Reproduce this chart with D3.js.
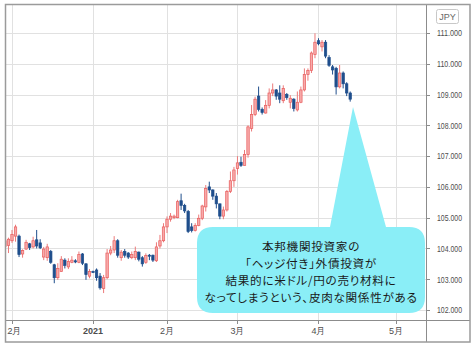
<!DOCTYPE html>
<meta charset="utf-8">
<style>
body { margin: 0; background: #fff; }
text { font-family: "Liberation Sans", Arial, sans-serif; }
.note { font-family: "Noto Sans CJK JP", sans-serif; font-size: 11.6px; letter-spacing: 0.7px; font-feature-settings: "palt"; fill: #1a1a1a; }
</style>
<body>
<script src="https://d3js.org/d3.v7.min.js"></script>
<script>
// USD/JPY daily candles, one value per weekday starting at startDate
var startDate = "2020-11-26";
var openP  = [104.45,104.06,104.10,104.25,104.40,104.40,103.82,103.98,104.15,104.05,104.28,104.18,103.72,103.70,103.90,103.47,103.05,103.25,103.62,103.40,103.55,103.60,103.55,103.82,103.50,103.10,103.25,103.30,103.10,102.70,103.05,103.85,103.95,104.25,103.70,103.90,103.85,103.70,103.70,103.88,103.70,103.55,103.78,103.78,103.60,104.08,104.25,104.70,104.95,105.00,105.00,105.55,105.40,105.20,104.70,104.58,104.75,104.98,105.35,106.00,105.90,105.70,105.45,105.05,105.25,105.85,106.20,106.60,106.80,106.70,107.05,107.90,108.35,108.95,108.52,108.40,108.65,109.05,109.15,109.05,108.80,109.00,108.75,108.85,108.50,108.75,109.15,109.65,109.78,110.30,110.75,110.55,110.70,110.20,109.90,109.85,109.25,109.70,109.35,109.05];
var highP  = [104.50,104.30,104.35,104.60,104.77,104.45,103.97,104.28,104.18,104.38,104.60,104.30,104.05,104.15,103.95,103.50,103.52,103.75,103.68,103.68,103.75,103.65,103.90,103.85,103.52,103.33,103.28,103.35,103.20,103.14,103.98,104.08,104.40,104.30,103.95,103.98,103.88,103.90,104.06,103.90,103.75,103.84,103.82,103.80,104.20,104.44,104.82,105.04,105.15,105.10,105.58,105.78,105.45,105.25,104.82,104.82,105.10,105.42,106.06,106.17,105.92,105.80,105.45,105.36,105.90,106.50,106.65,107.00,106.98,107.20,108.00,108.66,108.93,109.26,108.58,108.82,109.20,109.36,109.18,109.30,109.30,109.05,108.98,108.88,109.10,109.26,109.85,109.85,110.40,110.99,110.83,110.77,110.77,110.28,109.96,109.90,109.96,109.75,109.40,109.10];
var lowP   = [104.20,104.00,103.85,104.18,104.22,103.72,103.70,103.95,103.95,104.00,104.00,103.98,103.62,103.60,103.50,102.87,102.98,103.25,103.35,103.33,103.52,103.52,103.52,103.46,102.98,103.03,103.20,102.95,102.66,102.55,103.00,103.78,103.85,103.70,103.60,103.70,103.66,103.65,103.62,103.58,103.41,103.50,103.62,103.56,103.56,104.00,104.20,104.50,104.87,104.95,104.98,105.25,105.15,104.50,104.52,104.55,104.72,104.92,105.20,105.80,105.58,105.30,104.95,104.95,105.20,105.80,106.00,106.40,106.65,106.70,106.95,107.80,108.30,108.45,108.35,108.38,108.55,108.95,108.83,108.72,108.72,108.83,108.55,108.45,108.45,108.72,109.10,109.45,109.70,110.18,110.60,110.40,110.18,109.90,109.65,109.00,109.20,109.20,108.95,108.77];
var closeP = [104.25,104.25,104.30,104.45,104.70,103.80,103.93,104.20,104.03,104.25,104.08,104.02,103.98,104.05,103.55,103.05,103.35,103.65,103.45,103.58,103.62,103.56,103.80,103.52,103.15,103.25,103.22,103.05,102.72,103.05,103.85,103.95,104.25,103.78,103.88,103.78,103.72,103.80,103.90,103.65,103.50,103.77,103.75,103.62,104.05,104.25,104.70,104.95,105.05,105.05,105.52,105.40,105.22,104.55,104.58,104.75,104.98,105.38,105.95,105.90,105.70,105.45,105.05,105.25,105.85,106.20,106.55,106.78,106.70,107.05,107.95,108.35,108.85,108.52,108.42,108.65,109.05,109.15,108.95,108.85,109.20,108.90,108.88,108.55,108.75,109.15,109.65,109.78,110.35,110.70,110.65,110.70,110.25,109.95,109.80,109.25,109.70,109.35,109.05,108.85];

var priceTicks = [102, 103, 104, 105, 106, 107, 108, 109, 110, 111];
var monthLabels = ["12月", "2021", "2月", "3月", "4月", "5月"];
var noteLines = ["本邦機関投資家の", "「ヘッジ付き」外債投資が", "結果的に米ドル/円の売り材料に", "なってしまうという、皮肉な関係性がある"];

var plot = {left: 6, right: 426, top: 5, bottom: 320};

var svg = d3.select("body").append("svg")
    .attr("width", 474)
    .attr("height", 348);

// weekday calendar (bar index axis, as on the trading chart)
var parse = d3.timeParse("%Y-%m-%d");
var days = d3.timeDay.range(parse(startDate), parse("2021-06-01"))
    .filter(function(d) { return d.getDay() % 6 !== 0; });
var monthIdx = [];
days.forEach(function(d, i) {
  if (i > 0 && d.getMonth() !== days[i - 1].getMonth()) monthIdx.push(i);
});

var x = d3.scaleLinear().domain([monthIdx[0], monthIdx[5]]).range([12, 396]);
var y = d3.scaleLinear().domain([102, 111]).range([310, 33]);

var candles = openP.map(function(o, i) {
  return {i: i, o: o, h: highP[i], l: lowP[i], c: closeP[i]};
});

svg.append("clipPath").attr("id", "plotclip")
  .append("rect")
    .attr("x", plot.left).attr("y", plot.top)
    .attr("width", plot.right - plot.left).attr("height", plot.bottom - plot.top);

svg.append("clipPath").attr("id", "axisclip")
  .append("rect")
    .attr("x", 7).attr("y", plot.bottom)
    .attr("width", plot.right - 7).attr("height", 22);

// grid
var grid = svg.append("g").attr("clip-path", "url(#plotclip)");
grid.selectAll(".hg").data(priceTicks).enter().append("line")
    .attr("x1", plot.left).attr("x2", plot.right)
    .attr("y1", function(d) { return Math.round(y(d)) + 0.5; })
    .attr("y2", function(d) { return Math.round(y(d)) + 0.5; })
    .style("stroke", "#e1e1e1");
grid.selectAll(".vg").data(monthIdx).enter().append("line")
    .attr("x1", function(d) { return Math.round(x(d)) + 0.5; })
    .attr("x2", function(d) { return Math.round(x(d)) + 0.5; })
    .attr("y1", plot.top).attr("y2", plot.bottom)
    .style("stroke", "#e1e1e1");

// candles
var up = function(d) { return d.c >= d.o; };
var cg = svg.append("g").attr("clip-path", "url(#plotclip)");
cg.selectAll(".wick").data(candles).enter().append("line")
    .attr("x1", function(d) { return x(d.i); })
    .attr("x2", function(d) { return x(d.i); })
    .attr("y1", function(d) { return y(d.h); })
    .attr("y2", function(d) { return y(d.l); })
    .style("stroke", function(d) { return up(d) ? "#ec7a7a" : "#1f4e8c"; })
    .style("stroke-width", 1);
cg.selectAll(".body").data(candles).enter().append("rect")
    .attr("x", function(d) { return x(d.i) - 1.2; })
    .attr("width", 2.4)
    .attr("y", function(d) { return y(Math.max(d.o, d.c)); })
    .attr("height", function(d) { return Math.max(1, Math.abs(y(d.o) - y(d.c))); })
    .style("fill", function(d) { return up(d) ? "#f7aaaa" : "#1f4e8c"; })
    .style("stroke", function(d) { return up(d) ? "#e85c5c" : "#1f4e8c"; })
    .style("stroke-width", 0.7);

// callout
var bx = 197, by = 227, bw = 228, bh = 86, r = 16;
var callout = d3.path();
callout.moveTo(bx + r, by);
callout.lineTo(330, by);
callout.lineTo(353, 107);
callout.lineTo(386, by);
callout.lineTo(bx + bw - r, by);
callout.quadraticCurveTo(bx + bw, by, bx + bw, by + r);
callout.lineTo(bx + bw, by + bh - r);
callout.quadraticCurveTo(bx + bw, by + bh, bx + bw - r, by + bh);
callout.lineTo(bx + r, by + bh);
callout.quadraticCurveTo(bx, by + bh, bx, by + bh - r);
callout.lineTo(bx, by + r);
callout.quadraticCurveTo(bx, by, bx + r, by);
callout.closePath();
svg.append("path").attr("d", callout.toString()).style("fill", "#8aeef7");

svg.selectAll(".note").data(noteLines).enter().append("text")
    .attr("class", "note")
    .attr("x", 311)
    .attr("y", function(d, i) { return 250.5 + i * 17; })
    .attr("text-anchor", "middle")
    .text(function(d) { return d; });

// price axis
svg.append("line").attr("x1", plot.right + 0.5).attr("x2", plot.right + 0.5)
    .attr("y1", plot.top).attr("y2", 342).style("stroke", "#8c8c8c");
var pa = svg.append("g");
pa.selectAll("line").data(priceTicks).enter().append("line")
    .attr("x1", plot.right).attr("x2", plot.right + 4)
    .attr("y1", function(d) { return Math.round(y(d)) + 0.5; })
    .attr("y2", function(d) { return Math.round(y(d)) + 0.5; })
    .style("stroke", "#8c8c8c");
pa.selectAll("text").data(priceTicks).enter().append("text")
    .attr("x", 437)
    .attr("y", function(d) { return y(d) + 3.3; })
    .attr("textLength", 25)
    .attr("lengthAdjust", "spacingAndGlyphs")
    .style("font-size", "9px")
    .style("fill", "#4d4d4d")
    .text(function(d) { return d3.format(".3f")(d); });

// JPY badge
svg.append("rect").attr("x", 436.5).attr("y", 9.5).attr("width", 22).attr("height", 14).attr("rx", 2)
    .style("fill", "#fff").style("stroke", "#c8c8c8");
svg.append("text").attr("x", 447.5).attr("y", 20).attr("text-anchor", "middle")
    .style("font-size", "9px").style("fill", "#666").text("JPY");

// time axis
svg.append("line").attr("x1", plot.left).attr("x2", 470)
    .attr("y1", plot.bottom + 0.5).attr("y2", plot.bottom + 0.5).style("stroke", "#8c8c8c");
var ta = svg.append("g").attr("clip-path", "url(#axisclip)");
ta.selectAll("line").data(monthIdx).enter().append("line")
    .attr("x1", function(d) { return Math.round(x(d)) + 0.5; })
    .attr("x2", function(d) { return Math.round(x(d)) + 0.5; })
    .attr("y1", plot.bottom).attr("y2", plot.bottom + 4)
    .style("stroke", "#8c8c8c");
ta.selectAll("text").data(monthIdx).enter().append("text")
    .attr("x", function(d) { return x(d); })
    .attr("y", 334)
    .attr("text-anchor", "middle")
    .style("font-size", "9px")
    .style("font-weight", function(d, i) { return i === 1 ? "bold" : "normal"; })
    .style("fill", "#4d4d4d")
    .text(function(d, i) { return monthLabels[i]; });

// frame
svg.append("rect").attr("x", 5.5).attr("y", 4.5).attr("width", 464.5).attr("height", 337.5)
    .style("fill", "none").style("stroke", "#9b9b9b").style("stroke-width", 1.5);
</script>
</body>
